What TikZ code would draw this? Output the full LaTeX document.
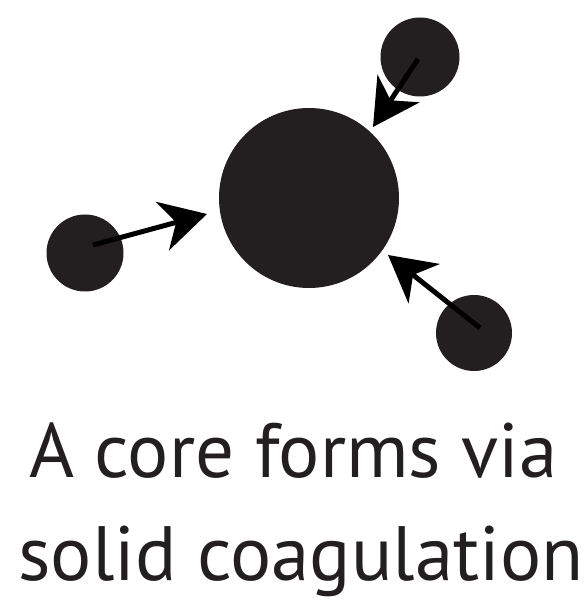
\documentclass[tikz,border=0pt]{standalone}
\usepackage{fontspec}
\setmainfont{PT Sans}
\usetikzlibrary{arrows.meta}
\definecolor{ink}{HTML}{231F20}
\begin{document}
\begin{tikzpicture}[x=1pt,y=1pt,
  ball/.style={circle,fill=ink,draw=none,inner sep=0pt,minimum size=#1},
  flow/.style={line width=5pt,-{Stealth[length=46pt,width=50pt,inset=14pt]}},
  caption/.style={anchor=base,text=ink,inner sep=0pt,font=\fontsize{77}{77}\selectfont}]
\useasboundingbox (0,0) rectangle (587,606);
\node[ball=180pt] (core) at (309,408) {};
\node[ball=79pt] (tr) at (420,549) {};
\node[ball=77pt] (lf) at (85,353) {};
\node[ball=76pt] (br) at (474,273) {};
\coordinate (s1) at (93,361);
\coordinate (e1) at (207,392);
\coordinate (s2) at (418,547);
\coordinate (e2) at (373,479);
\coordinate (s3) at (480,278);
\coordinate (e3) at (388,351);
\draw[flow] (s1) -- (e1);
\draw[flow] (s2) -- (e2);
\draw[flow] (s3) -- (e3);
\node[caption] (l1) at (293.5,128) {A core forms via};
\node[caption] (l2) at (301,26) {solid coagulation};
\end{tikzpicture}
\end{document}
